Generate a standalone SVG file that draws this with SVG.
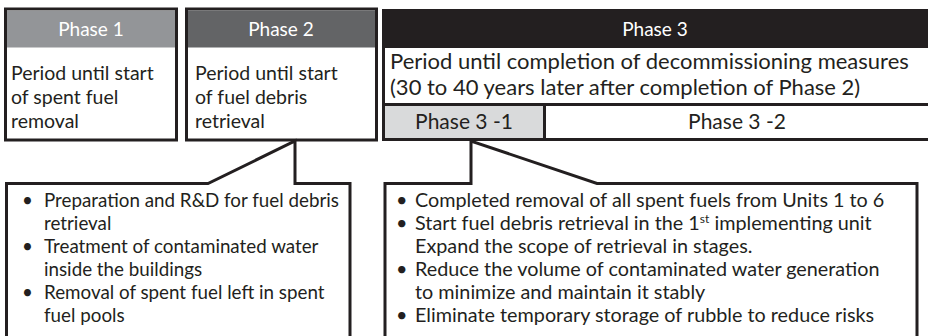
<svg xmlns="http://www.w3.org/2000/svg" width="928" height="336" viewBox="0 0 928 336">
<style>
text{font-family:Lato,"Open Sans","Liberation Sans",sans-serif;fill:#231f20}
.hd{font-size:19px;fill:#fff;text-anchor:middle}
.bd{font-size:19.5px}
.b3{font-size:22px}
.sub{font-size:21px;text-anchor:middle}
.ll{font-size:18.8px}
.rl{font-size:19.8px}
.ln{fill:none;stroke:#231f20;stroke-width:3}
</style>
<rect width="928" height="336" fill="#fff"/>
<g id="phase1">
<rect x="5.5" y="9" width="171" height="131" fill="#fff" class="ln"/>
<rect x="7" y="10.5" width="168" height="37" fill="#939598"/>
<text class="hd" x="91" y="36">Phase 1</text>
<text class="bd" x="11" y="80">Period until start</text>
<text class="bd" x="11" y="104">of spent fuel</text>
<text class="bd" x="11" y="128">removal</text>
</g>
<g id="phase2">
<rect x="186.5" y="9" width="190" height="131" fill="#fff" class="ln"/>
<rect x="188" y="10.5" width="187" height="37" fill="#636466"/>
<text class="hd" x="281" y="36">Phase 2</text>
<text class="bd" x="195" y="80">Period until start</text>
<text class="bd" x="195" y="104">of fuel debris</text>
<text class="bd" x="195" y="128">retrieval</text>
</g>
<g id="phase3">
<path class="ln" d="M383.5 9 V139.5 H930 M383.5 104.5 H930"/>
<rect x="382" y="9" width="546" height="39" fill="#231f20"/>
<text class="hd" x="655" y="36">Phase 3</text>
<text class="b3" x="390" y="69">Period until completion of decommissioning measures</text>
<text class="b3" x="390" y="95">(30 to 40 years later after completion of Phase 2)</text>
</g>
<g id="phase3-1">
<rect x="385" y="106" width="158" height="32" fill="#d9dadb"/>
<path class="ln" d="M544.5 104.5 V139.5"/>
<text class="sub" x="464" y="129">Phase 3 -1</text>
</g>
<g id="phase3-2">
<text class="sub" x="737" y="129">Phase 3 -2</text>
</g>
<g id="connectors">
<path class="ln" d="M6.5 340 V183.5 H208 L295 141 V183.5 H350 V340"/>
<path class="ln" d="M385 340 V183.5 H471 V141 L597 183.5 H917 V340"/>
</g>
<g id="phase2-notes" class="ll">
<text x="22" y="207">•</text><text x="44" y="207">Preparation and R&amp;D for fuel debris</text>
<text x="44" y="230">retrieval</text>
<text x="22" y="253">•</text><text x="44" y="253">Treatment of contaminated water</text>
<text x="44" y="276">inside the buildings</text>
<text x="22" y="299">•</text><text x="44" y="299">Removal of spent fuel left in spent</text>
<text x="44" y="322">fuel pools</text>
</g>
<g id="phase3-1-notes" class="rl">
<text x="396" y="207">•</text><text x="415" y="207">Completed removal of all spent fuels from Units 1 to 6</text>
<text x="396" y="230">•</text><text x="415" y="230">Start fuel debris retrieval in the 1<tspan font-size="12" dy="-7">st</tspan><tspan dy="7"> implementing unit</tspan></text>
<text x="415" y="253">Expand the scope of retrieval in stages.</text>
<text x="396" y="276">•</text><text x="415" y="276">Reduce the volume of contaminated water generation</text>
<text x="415" y="299">to minimize and maintain it stably</text>
<text x="396" y="322">•</text><text x="415" y="322">Eliminate temporary storage of rubble to reduce risks</text>
</g>
</svg>
